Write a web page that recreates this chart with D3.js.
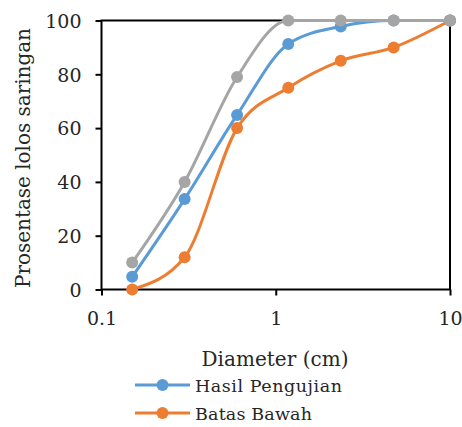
<!DOCTYPE html>
<html>
<head>
<meta charset="utf-8">
<script src="https://cdn.jsdelivr.net/npm/d3@7"></script>
<style>
  html, body { margin: 0; padding: 0; background: #fff; }
  svg { display: block; }
</style>
</head>
<body>
<svg id="chart" width="462" height="427"></svg>
<script>
const diameters = [0.15, 0.3, 0.6, 1.18, 2.36, 4.75, 10];
const hasilPengujian = [4.7, 33.6, 64.9, 91.3, 97.8, 100, 100];
const batasBawah = [0, 12, 60, 75, 85, 90, 100];
const batasAtas = [10, 40, 79, 100, 100, 100, 100];
const xTicks = [0.1, 1, 10];
const yTicks = [0, 20, 40, 60, 80, 100];
const seriesNames = ["Hasil Pengujian", "Batas Bawah", "Batas Atas"];
const seriesColors = ["#5B9BD5", "#ED7D31", "#A5A5A5"];

const FONT = "'DejaVu Serif', serif";
const svg = d3.select("#chart");
const pLeft = 101.5, pRight = 450, pTop = 20.5, pBottom = 289.5;

const x = d3.scaleLog().domain([0.1, 10]).range([pLeft, pRight]);
const y = d3.scaleLinear().domain([0, 100]).range([pBottom, pTop]);

// plot box
svg.append("rect")
  .attr("x", pLeft).attr("y", pTop)
  .attr("width", pRight - pLeft).attr("height", pBottom - pTop)
  .attr("fill", "none").attr("stroke", "#000").attr("stroke-width", 2);

// x axis
const xAxis = d3.axisBottom(x).tickValues(xTicks).tickSize(6).tickFormat(d => String(d));
const gx = svg.append("g").attr("transform", `translate(0,${pBottom})`).call(xAxis)
  .attr("font-family", null);
gx.select(".domain").remove();
gx.selectAll(".tick line").attr("stroke", "#000").attr("stroke-width", 2);
gx.selectAll(".tick text").attr("y", 0).attr("dy", 35)
  .style("font-size", "19px").style("font-family", FONT).attr("fill", "#262626");

// y axis
const yAxis = d3.axisLeft(y).tickValues(yTicks).tickSize(6);
const gy = svg.append("g").attr("transform", `translate(${pLeft},0)`).call(yAxis)
  .attr("font-family", null);
gy.select(".domain").remove();
gy.selectAll(".tick line").attr("stroke", "#000").attr("stroke-width", 2);
gy.selectAll(".tick text").attr("x", -20).attr("dy", "0.36em")
  .style("font-size", "19px").style("font-family", FONT).attr("fill", "#262626");

// axis titles
svg.append("text")
  .attr("x", 275).attr("y", 366)
  .attr("text-anchor", "middle")
  .style("font-family", FONT).style("font-size", "20px").attr("fill", "#262626")
  .attr("textLength", 147)
  .text("Diameter (cm)");

svg.append("text")
  .attr("transform", "translate(30,158) rotate(-90)")
  .attr("text-anchor", "middle")
  .style("font-family", FONT).style("font-size", "20px").attr("fill", "#262626")
  .attr("textLength", 260)
  .text("Prosentase lolos saringan");

// series
const line = d3.line()
  .x(d => x(d[0]))
  .y(d => y(d[1]))
  .curve(d3.curveMonotoneX);

const allSeries = [hasilPengujian, batasBawah, batasAtas];
const drawOrder = [1, 0, 2];
drawOrder.forEach(i => {
  const pts = diameters.map((d, j) => [d, allSeries[i][j]]);
  const g = svg.append("g");
  g.append("path").attr("d", line(pts))
    .attr("fill", "none").attr("stroke", seriesColors[i])
    .attr("stroke-width", 3).attr("stroke-linejoin", "round");
  g.selectAll("circle").data(pts).join("circle")
    .attr("cx", d => x(d[0])).attr("cy", d => y(d[1]))
    .attr("r", 6).attr("fill", seriesColors[i]);
});

// legend (first two series)
const legendY = [385, 413];
const legendLen = [147, 117];
[0, 1].forEach((i, k) => {
  const g = svg.append("g");
  g.append("line").attr("x1", 135).attr("x2", 190)
    .attr("y1", legendY[k]).attr("y2", legendY[k])
    .attr("stroke", seriesColors[i]).attr("stroke-width", 3);
  g.append("circle").attr("cx", 162.5).attr("cy", legendY[k]).attr("r", 6)
    .attr("fill", seriesColors[i]);
  g.append("text").attr("x", 195).attr("y", legendY[k] + 6.5)
    .style("font-family", FONT).style("font-size", "17.5px").attr("fill", "#262626")
    .attr("textLength", legendLen[k])
    .text(seriesNames[i]);
});
</script>
</body>
</html>
